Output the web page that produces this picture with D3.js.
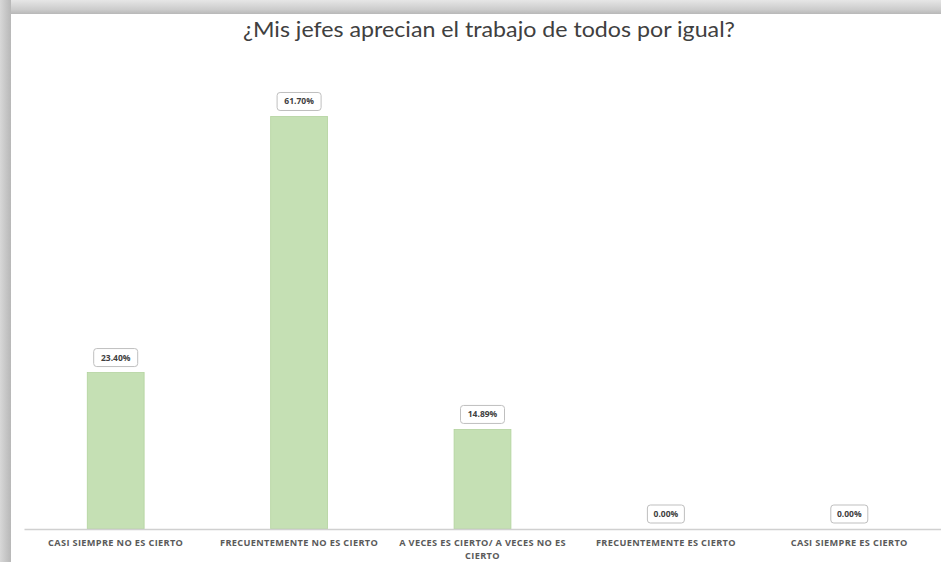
<!DOCTYPE html>
<html><head><meta charset="utf-8">
<script src="https://cdn.jsdelivr.net/npm/d3@7"></script>
<style>html,body{margin:0;padding:0;background:#fff;}svg{display:block;}</style>
</head><body>
<svg id="chart" width="941" height="562"></svg>
<script>
const title = "¿Mis jefes aprecian el trabajo de todos por igual?";
const categories = ["CASI SIEMPRE NO ES CIERTO","FRECUENTEMENTE NO ES CIERTO","A VECES ES CIERTO/ A VECES NO ES CIERTO","FRECUENTEMENTE ES CIERTO","CASI SIEMPRE ES CIERTO"];
const categoryLines = [["CASI SIEMPRE NO ES CIERTO"],["FRECUENTEMENTE NO ES CIERTO"],["A VECES ES CIERTO/ A VECES NO ES","CIERTO"],["FRECUENTEMENTE ES CIERTO"],["CASI SIEMPRE ES CIERTO"]];
const values = [23.40, 61.70, 14.89, 0.00, 0.00];
const valueLabels = ["23.40%","61.70%","14.89%","0.00%","0.00%"];

const svg = d3.select("#chart");
const W = 941, H = 562;

// frame / shadow
const defs = svg.append("defs");
const gTop = defs.append("linearGradient").attr("id","gTop").attr("x1",0).attr("x2",0).attr("y1",0).attr("y2",1);
gTop.append("stop").attr("offset","0%").attr("stop-color","#e6e6e6");
gTop.append("stop").attr("offset","70%").attr("stop-color","#cbcbcb");
gTop.append("stop").attr("offset","100%").attr("stop-color","#b8b8b8");
const gLeft = defs.append("linearGradient").attr("id","gLeft").attr("x1",0).attr("x2",1).attr("y1",0).attr("y2",0);
gLeft.append("stop").attr("offset","0%").attr("stop-color","#d8d8d8");
gLeft.append("stop").attr("offset","60%").attr("stop-color","#c4c4c4");
gLeft.append("stop").attr("offset","100%").attr("stop-color","#b8b8b8");
svg.append("rect").attr("x",0).attr("y",0).attr("width",W).attr("height",14).attr("fill","url(#gTop)");
svg.append("rect").attr("x",0).attr("y",0).attr("width",11).attr("height",H).attr("fill","url(#gLeft)");
svg.append("rect").attr("x",11).attr("y",14).attr("width",W-11).attr("height",H-14).attr("fill","#ffffff");

// title
svg.append("text").attr("x",489).attr("y",37).attr("text-anchor","middle")
  .attr("font-family","Lato, 'Open Sans', sans-serif").attr("font-size",21).attr("fill","#404040")
  .attr("textLength",492).attr("lengthAdjust","spacingAndGlyphs")
  .text(title);

const x = d3.scaleBand().domain(categories).range([24, 941]).paddingInner(0.69).paddingOuter(0.345);
const y = d3.scaleLinear().domain([0, 70]).range([529, 61]);

// bars
svg.append("g").selectAll("rect").data(values).join("rect")
  .attr("x",(d,i)=>x(categories[i]))
  .attr("y",d=>y(d))
  .attr("width",x.bandwidth())
  .attr("height",d=>y(0)-y(d))
  .attr("fill","#c5e0b4").attr("stroke","#b3d39e").attr("stroke-width",0.8);

// axis
const axis = svg.append("g").attr("transform","translate(0,529)")
  .call(d3.axisBottom(x).tickSize(0).tickFormat(""));
axis.select(".domain").attr("stroke","#d0d0d0").attr("stroke-width",1.6);

// category labels
const cl = svg.append("g");
categoryLines.forEach((lines,i)=>{
  const t = cl.append("text").attr("x",x(categories[i])+x.bandwidth()/2).attr("y",546)
    .attr("text-anchor","middle").attr("font-family","'Open Sans', sans-serif")
    .attr("font-size",9.2).attr("letter-spacing",0.35).attr("font-weight","bold").attr("fill","#5a5a5a");
  lines.forEach((ln,j)=>t.append("tspan").attr("x",x(categories[i])+x.bandwidth()/2).attr("dy",j===0?0:13).text(ln));
});

// data labels
const dl = svg.append("g");
values.forEach((v,i)=>{
  const cx = x(categories[i])+x.bandwidth()/2;
  const cy = y(v)-15;
  const w = valueLabels[i].length>5 ? 44 : 37;
  dl.append("rect").attr("x",cx-w/2).attr("y",cy-9).attr("width",w).attr("height",18).attr("rx",3)
    .attr("fill","#fff").attr("stroke","#bfbfbf").attr("stroke-width",1);
  dl.append("text").attr("x",cx).attr("y",cy+3).attr("text-anchor","middle")
    .attr("font-family","'Open Sans', sans-serif").attr("font-size",8.5).attr("font-weight","bold")
    .attr("fill","#404040").text(valueLabels[i]);
});
</script>
</body></html>
